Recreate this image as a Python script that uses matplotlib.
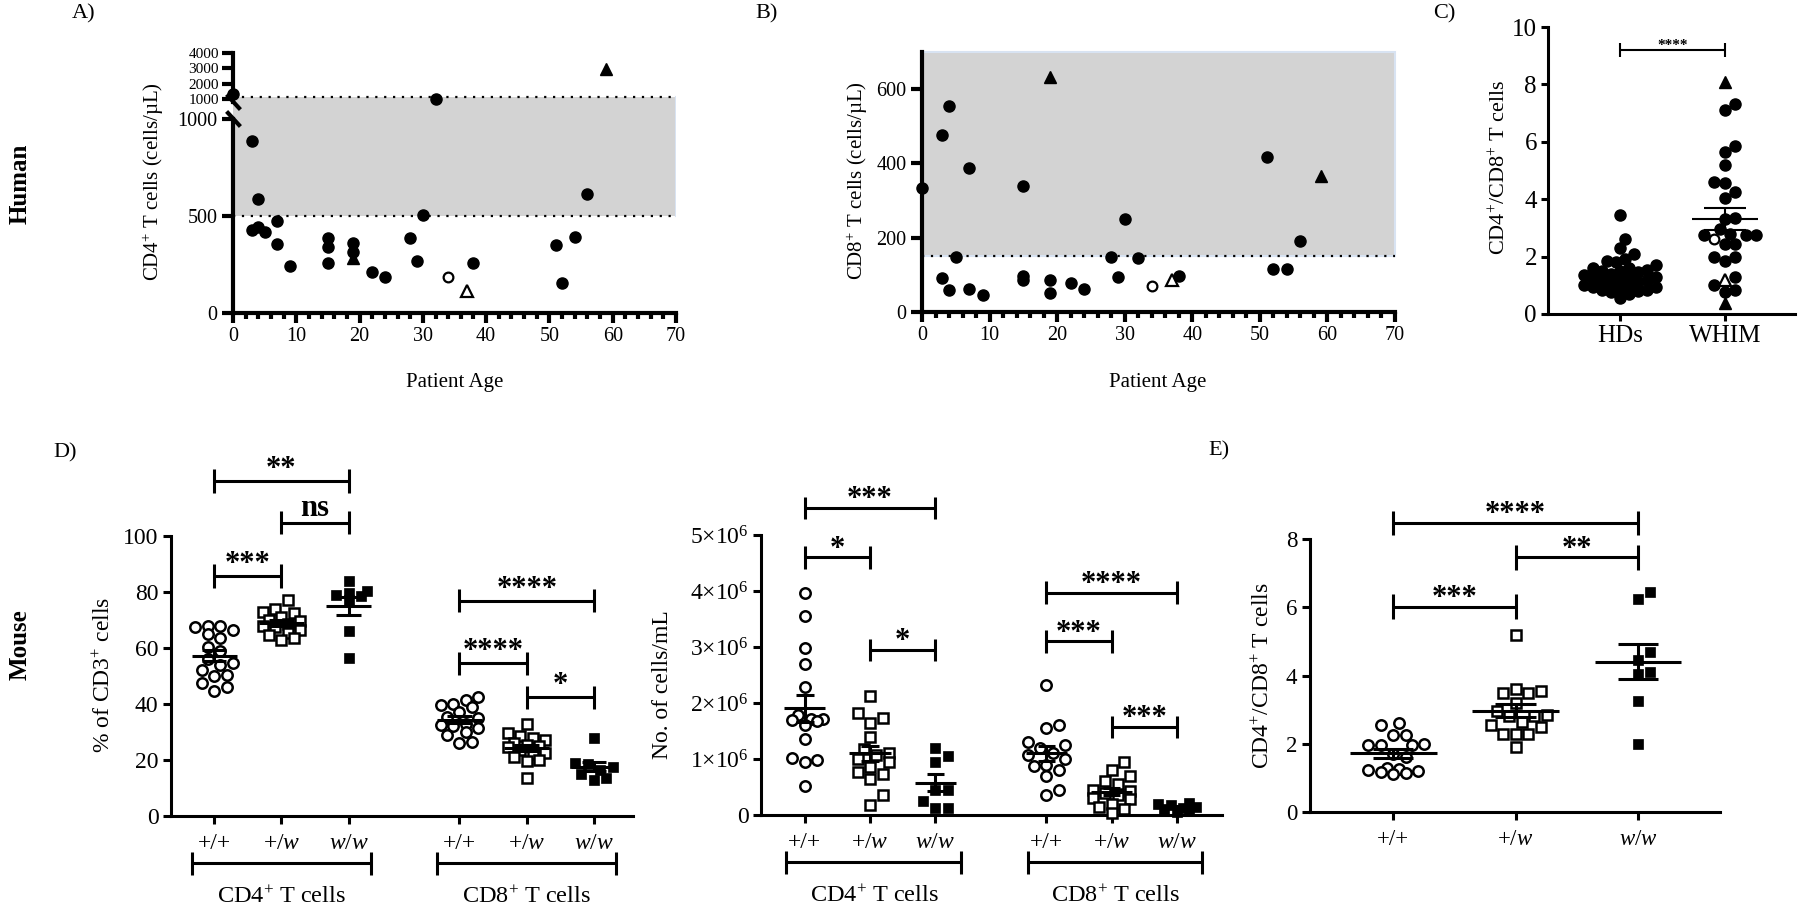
import numpy as np
import matplotlib
matplotlib.use("Agg")
import matplotlib.pyplot as plt
from matplotlib.lines import Line2D
from matplotlib.patches import Rectangle
from matplotlib.ticker import MultipleLocator

plt.rcParams['font.family'] = ['Liberation Serif', 'DejaVu Serif']
plt.rcParams['mathtext.fontset'] = 'custom'
plt.rcParams['mathtext.rm'] = 'Liberation Serif'
plt.rcParams['mathtext.it'] = 'Liberation Serif:italic'
plt.rcParams['mathtext.bf'] = 'Liberation Serif:bold'

#==============================================================================
#                               data
#==============================================================================
# A/B: WHIM patients, age vs CD4 / CD8 counts (cells/uL)
age = [0, 3, 3, 4, 4, 5, 7, 7, 9, 15, 15, 15, 19, 19, 22, 24, 28, 29, 30, 32, 38, 51, 52, 54, 56]
cd4 = [1350, 888, 428, 586, 445, 416, 476, 355, 241, 384, 338, 257, 359, 316, 212, 186,
       384, 267, 505, 1000, 259, 350, 155, 390, 614]
cd8 = [335, 477, 92, 554, 60, 149, 389, 63, 45, 340, 96, 86, 87, 52, 77, 61,
       149, 95, 250, 146, 96, 416, 117, 117, 192]
age_tri, cd4_tri, cd8_tri = [19, 59], [281, 2950], [633, 367]          # filled triangles
age_ocirc, cd4_ocirc, cd8_ocirc = [34], [186], [69]                    # open circle
age_otri, cd4_otri, cd8_otri = [37], [112], [86]                       # open triangle
cd4_range = (500, 1100)
cd8_range = (150, 700)

# C: CD4/CD8 ratio, healthy donors vs WHIM
ratio_hd = [3.45, 2.6, 2.3, 2.1, 1.9, 1.85, 1.8, 1.7, 1.6, 1.6, 1.55, 1.5, 1.5, 1.45, 1.4,
            1.35, 1.3, 1.3, 1.25, 1.2, 1.2, 1.15, 1.1, 1.05, 1.0, 1.0, 0.95, 0.95, 0.9,
            0.85, 0.85, 0.8, 0.75, 0.7, 0.55]
ratio_whim = [7.3, 7.1, 5.85, 5.65, 5.2, 4.6, 4.55, 4.25, 4.05, 3.35, 3.3, 2.95, 2.8, 2.75,
              2.75, 2.75, 2.45, 2.45, 2.0, 2.0, 1.85, 1.3, 1.0, 0.85, 0.75]
ratio_whim_tri = [8.1, 0.38]
ratio_whim_ocirc = [2.6]
ratio_whim_otri = [1.2]

# D/E: mice, genotypes +/+, +/w, w/w
genotypes = ['+/+', r'+/$\mathit{w}$', r'$\mathit{w}$/$\mathit{w}$']
pct_cd4 = [[68, 68, 67.5, 66.5, 65, 63.5, 60.5, 59, 56, 54.5, 54, 52, 50.5, 50, 47.5, 46, 44.5],
           [77, 74, 73, 72.5, 71, 70, 69.5, 68.5, 68, 67.5, 66.5, 65.5, 64.5, 63.5, 63],
           [84, 80.5, 79.5, 79, 78.5, 77, 66, 56.5]]
pct_cd8 = [[42.5, 41.5, 40, 39.5, 39, 37, 35.5, 35, 33, 32.5, 32, 31.5, 30, 29, 26.5, 26],
           [33, 29.5, 28.5, 28, 27, 26, 25.5, 25, 24.5, 23.5, 22.5, 22, 21, 20, 19.5, 13.5],
           [28, 19, 18.5, 17.5, 16.5, 15, 13.5, 13]]
# cells/mL, in units of 1e6
num_cd4 = [[3.97, 3.55, 2.98, 2.7, 2.28, 1.78, 1.72, 1.71, 1.7, 1.68, 1.6, 1.35, 1.02, 0.98, 0.95, 0.52],
           [2.13, 1.83, 1.74, 1.65, 1.4, 1.17, 1.1, 1.07, 1.0, 0.95, 0.85, 0.77, 0.74, 0.65, 0.36, 0.18],
           [1.2, 1.05, 0.95, 0.45, 0.45, 0.25, 0.13, 0.12]]
num_cd8 = [[2.33, 1.6, 1.55, 1.3, 1.25, 1.2, 1.1, 1.07, 1.0, 0.9, 0.88, 0.8, 0.7, 0.45, 0.35],
           [0.95, 0.8, 0.7, 0.6, 0.55, 0.45, 0.42, 0.4, 0.35, 0.3, 0.28, 0.2, 0.15, 0.1, 0.03],
           [0.22, 0.2, 0.18, 0.15, 0.12, 0.1, 0.08, 0.05]]
ratio_mouse = [[2.6, 2.55, 2.25, 2.25, 2.0, 1.95, 1.95, 1.95, 1.7, 1.6, 1.3, 1.25, 1.22, 1.2, 1.18, 1.15, 1.12],
               [5.2, 3.6, 3.55, 3.5, 3.5, 3.2, 2.95, 2.85, 2.8, 2.8, 2.65, 2.55, 2.5, 2.3, 2.3, 2.3, 1.9],
               [6.45, 6.25, 4.7, 4.45, 4.1, 4.05, 3.25, 2.0]]

# significance: (label, group i, group j, bracket height)
sig_c = [('****', 0, 1, 9.19)]
sig_pct = [('**', 0, 2, 119.6), ('ns', 1, 2, 104.8), ('***', 0, 1, 85.8),
           ('****', 3, 5, 76.9), ('****', 3, 4, 54.5), ('*', 4, 5, 42.4)]
sig_num = [('***', 0, 2, 5.48), ('*', 0, 1, 4.6), ('*', 1, 2, 2.95),
           ('****', 3, 5, 3.97), ('***', 3, 4, 3.1), ('***', 4, 5, 1.57)]
sig_ratio = [('****', 0, 2, 8.47), ('**', 1, 2, 7.46), ('***', 0, 1, 6.02)]

#==============================================================================
#                               helpers
#==============================================================================
W, H = 1800, 909
fig = plt.figure(figsize=(W / 100, H / 100), dpi=100)
GRAY, EDGE = '#d3d3d3', '#d8e3f2'


def frame(x0, y0, x1, y1):
    return [x0 / W, 1 - y1 / H, (x1 - x0) / W, (y1 - y0) / H]


def style(ax, lw, tl, fs):
    for s in ['top', 'right']:
        ax.spines[s].set_visible(False)
    for s in ['left', 'bottom']:
        ax.spines[s].set_linewidth(lw)
    ax.tick_params(direction='out', length=tl, width=lw, labelsize=fs, pad=3)


def scale(ax):
    p = ax.get_position()
    x0, x1 = ax.get_xlim()
    y0, y1 = ax.get_ylim()
    return p.width * W / (x1 - x0), p.height * H / (y1 - y0)


def swarm(vals, sx, sy, d, maxw, step=0.5):
    # simple beeswarm in pixel space; points overlap once the row is maxw wide
    vals = np.asarray(vals, float)
    offs = np.zeros(len(vals))
    placed = []
    cands = [0] + [s * k for k in range(1, 60) for s in (1, -1)]
    for i in np.argsort(vals):
        y = vals[i] * sy
        best, bestd = 0.0, -1.0
        for c in cands:
            x = c * step * d
            if abs(x) > maxw:
                continue
            md = min([np.hypot(x - px, y - py) for px, py in placed] or [1e9])
            if md >= d:
                best = x
                break
            if md > bestd:
                best, bestd = x, md
        placed.append((best, y))
        offs[i] = best / sx
    return offs


def mean_sem(ax, xc, v, wm, wc, lw):
    v = np.asarray(v, float)
    m = v.mean()
    e = v.std(ddof=1) / np.sqrt(len(v))
    kw = dict(color='black', lw=lw, zorder=4, solid_capstyle='butt')
    ax.plot([xc - wm / 2, xc + wm / 2], [m, m], **kw)
    ax.plot([xc, xc], [m - e, m + e], **kw)
    for yy in (m - e, m + e):
        ax.plot([xc - wc / 2, xc + wc / 2], [yy, yy], **kw)


def bracket(ax, x1, x2, y, cap, text, fs, lw, off):
    kw = dict(color='black', lw=lw, clip_on=False, solid_capstyle='butt')
    ax.plot([x1, x2], [y, y], **kw)
    ax.plot([x1, x1], [y - cap, y + cap], **kw)
    ax.plot([x2, x2], [y - cap, y + cap], **kw)
    ax.annotate(text, ((x1 + x2) / 2, y), xytext=(0, off), textcoords='offset points',
                ha='center', va='baseline', fontsize=fs, fontweight='bold',
                annotation_clip=False)


def group_bar(ax, x1, x2, label, lw=2.2, fs=17.5):
    tr = ax.get_xaxis_transform()
    kw = dict(color='black', lw=lw, clip_on=False, transform=tr, solid_capstyle='butt')
    ax.plot([x1, x2], [-0.168, -0.168], **kw)
    ax.plot([x1, x1], [-0.128, -0.209], **kw)
    ax.plot([x2, x2], [-0.128, -0.209], **kw)
    ax.text((x1 + x2) / 2, -0.29, label, transform=tr, ha='center', va='center', fontsize=fs)


fc = dict(marker='o', color='black', ms=8, ls='none', clip_on=False, zorder=3)
ft = dict(marker='^', color='black', ms=9, ls='none', clip_on=False, zorder=3)
oc = dict(marker='o', mfc='white', mec='black', ms=7, mew=1.6, ls='none', clip_on=False, zorder=3)
ot = dict(marker='^', mfc='white', mec='black', ms=8, mew=1.6, ls='none', clip_on=False, zorder=3)

#==============================================================================
#                               A) CD4 vs age (broken axis)
#==============================================================================
axAh = fig.add_axes(frame(233, 53, 676, 112))
axAl = fig.add_axes(frame(233, 112, 676, 313))
for ax in (axAh, axAl):
    style(ax, 3, 8, 14.5)
    ax.set_xlim(0, 70)
    ax.set_facecolor('none')
axAh.tick_params(axis='y', labelsize=11, pad=2)
axAl.set_ylim(0, 1036)
axAh.set_ylim(151, 4000)
axAh.spines['bottom'].set_visible(False)
axAh.tick_params(axis='x', bottom=False, labelbottom=False)
axAl.spines['left'].set_bounds(0, 1000)
axAh.spines['left'].set_bounds(800, 4000)
axAl.set_yticks([0, 500, 1000])
axAh.set_yticks([1000, 2000, 3000, 4000])
axAl.xaxis.set_major_locator(MultipleLocator(10))
axAl.xaxis.set_minor_locator(MultipleLocator(2))
axAl.tick_params(axis='x', which='major', length=7)
axAl.tick_params(axis='x', which='minor', length=4.5, width=3)
axAl.axhspan(cd4_range[0], 1036, color=GRAY, zorder=0, lw=0)
axAh.axhspan(151, cd4_range[1], color=GRAY, zorder=0, lw=0)
axAl.axhline(cd4_range[0], color='black', ls=(0, (1, 3)), lw=1.6, zorder=1)
axAh.axhline(cd4_range[1], color='black', ls=(0, (1, 3)), lw=1.6, zorder=1)
axAl.plot([70, 70], [cd4_range[0], 1036], color=EDGE, lw=1.5, zorder=1)
axAh.plot([70, 70], [151, cd4_range[1]], color=EDGE, lw=1.5, zorder=1)

for xs, ys, mk in [(age, cd4, fc), (age_tri, cd4_tri, ft), (age_ocirc, cd4_ocirc, oc), (age_otri, cd4_otri, ot)]:
    xs, ys = np.array(xs), np.array(ys)
    hi = ys >= 1000
    axAh.plot(xs[hi], ys[hi], **mk)
    axAl.plot(xs[~hi], ys[~hi], **mk)

# break marks on the y axis
fig.canvas.draw()
for ax, yv in ((axAh, 800), (axAl, 1000)):
    px, py = ax.transData.transform((0, yv))
    fx, fy = px / W, py / H
    fig.add_artist(Line2D([fx - 5 / W, fx + 6 / W], [fy + 6 / H, fy - 6 / H],
                          color='black', lw=3, transform=fig.transFigure))

fig.text(455 / W, 1 - 382 / H, 'Patient Age', ha='center', va='center', fontsize=15)
fig.text(153 / W, 1 - 182 / H, r'CD4$^{+}$ T cells (cells/µL)', rotation=90,
         ha='center', va='center', fontsize=15)

#==============================================================================
#                               B) CD8 vs age
#==============================================================================
axB = fig.add_axes(frame(922, 52, 1395, 312))
style(axB, 3, 8, 14.5)
axB.set_xlim(0, 70)
axB.set_ylim(0, cd8_range[1])
axB.set_yticks([0, 200, 400, 600])
axB.xaxis.set_major_locator(MultipleLocator(10))
axB.xaxis.set_minor_locator(MultipleLocator(2))
axB.tick_params(axis='x', which='major', length=7)
axB.tick_params(axis='x', which='minor', length=4.5, width=3)
axB.add_patch(Rectangle((0, cd8_range[0]), 70, cd8_range[1] - cd8_range[0],
                        facecolor=GRAY, edgecolor=EDGE, lw=1.5, zorder=0, clip_on=False))
axB.axhline(cd8_range[0], color='black', ls=(0, (1, 3)), lw=1.6, zorder=1)
for xs, ys, mk in [(age, cd8, fc), (age_tri, cd8_tri, ft), (age_ocirc, cd8_ocirc, oc), (age_otri, cd8_otri, ot)]:
    axB.plot(xs, ys, **mk)
fig.text(1158 / W, 1 - 382 / H, 'Patient Age', ha='center', va='center', fontsize=15)
fig.text(857 / W, 1 - 181 / H, r'CD8$^{+}$ T cells (cells/µL)', rotation=90,
         ha='center', va='center', fontsize=15)

#==============================================================================
#                               C) ratio HDs vs WHIM
#==============================================================================
axC = fig.add_axes(frame(1548, 27, 1795, 314))
style(axC, 2.2, 5, 18)
axC.set_xlim(-0.686, 1.667)
axC.set_ylim(0, 10)
axC.set_yticks(range(0, 11, 2))
axC.set_xticks([0, 1])
axC.set_xticklabels(['HDs', 'WHIM'])
sx, sy = scale(axC)
off = swarm(ratio_hd, sx, sy, 9, 36)
axC.plot(0 + off, ratio_hd, **dict(fc, ms=8))
mean_sem(axC, 0, ratio_hd, 0.5, 0.3, 1.5)
whim_all = ratio_whim + ratio_whim_tri + ratio_whim_ocirc + ratio_whim_otri
off = swarm(whim_all, sx, sy, 10.5, 33)
n1, n2, n3 = len(ratio_whim), len(ratio_whim_tri), len(ratio_whim_ocirc)
axC.plot(1 + off[:n1], ratio_whim, **dict(fc, ms=8))
axC.plot(1 + off[n1:n1 + n2], ratio_whim_tri, **dict(ft, ms=9))
axC.plot(1 + off[n1 + n2:n1 + n2 + n3], ratio_whim_ocirc, **oc)
axC.plot(1 + off[n1 + n2 + n3:], ratio_whim_otri, **ot)
mean_sem(axC, 1, whim_all, 0.62, 0.4, 1.5)
for lab, i, j, y in sig_c:
    bracket(axC, i, j, y, 0.25, lab, 11, 1.5, 1)
fig.text(1500 / W, 1 - 167 / H, r'CD4$^{+}$/CD8$^{+}$ T cells', rotation=90,
         ha='center', va='center', fontsize=16)

#==============================================================================
#                               D) % and numbers of CD4 / CD8
#==============================================================================
mk_mouse = [dict(marker='o', mfc='white', mec='black', ms=7.5, mew=1.8),
            dict(marker='s', mfc='white', mec='black', ms=6.8, mew=1.8),
            dict(marker='s', mfc='black', mec='black', ms=7.5, mew=0.5)]


def mouse_panel(ax, pos, groups, mult, wm, wc, maxw):
    sx, sy = scale(ax)
    for k, (xc, vals) in enumerate(zip(pos, groups)):
        v = np.asarray(vals, float) * mult
        off = swarm(v, sx, sy, 12.5, maxw)
        ax.plot(xc + off, v, ls='none', clip_on=False, zorder=3, **mk_mouse[k % 3])
        mean_sem(ax, xc, v, wm, wc, 2.2)


posL = [1, 2, 3, 4.65, 5.65, 6.65]
axDL = fig.add_axes(frame(171, 536, 633, 816))
style(axDL, 2.2, 6, 17)
axDL.set_xlim(0.36, 7.23)
axDL.set_ylim(0, 100)
axDL.set_yticks(range(0, 101, 20))
axDL.set_xticks(posL)
axDL.set_xticklabels(genotypes * 2)
axDL.tick_params(axis='x', pad=6)
mouse_panel(axDL, posL, pct_cd4 + pct_cd8, 1, 0.67, 0.37, 22)
for lab, i, j, y in sig_pct:
    bracket(axDL, posL[i], posL[j], y, 4.2, lab, 22, 2.2, 3 if lab != 'ns' else 4.5)
group_bar(axDL, 0.67, 3.33, r'CD4$^{+}$ T cells')
group_bar(axDL, 4.32, 6.98, r'CD8$^{+}$ T cells')
fig.text(104 / W, 1 - 675 / H, r'% of CD3$^{+}$ cells', rotation=90,
         ha='center', va='center', fontsize=17)

posR = [1, 2, 3, 4.7, 5.7, 6.7]
axDR = fig.add_axes(frame(761, 535, 1222, 815))
style(axDR, 2.2, 6, 17)
axDR.set_xlim(0.33, 7.39)
axDR.set_ylim(0, 5e6)
axDR.set_yticks([k * 1e6 for k in range(6)])
axDR.set_yticklabels(['0'] + [r'%d×10$^{6}$' % k for k in range(1, 6)])
axDR.set_xticks(posR)
axDR.set_xticklabels(genotypes * 2)
axDR.tick_params(axis='x', pad=6)
mouse_panel(axDR, posR, num_cd4 + num_cd8, 1e6, 0.63, 0.27, 22)
for lab, i, j, y in sig_num:
    bracket(axDR, posR[i], posR[j], y * 1e6, 0.2e6, lab, 22, 2.2, 0.5)
group_bar(axDR, 0.72, 3.4, r'CD4$^{+}$ T cells')
group_bar(axDR, 4.42, 7.08, r'CD8$^{+}$ T cells')
fig.text(663 / W, 1 - 685 / H, 'No. of cells/mL', rotation=90,
         ha='center', va='center', fontsize=17)

#==============================================================================
#                               E) mouse CD4/CD8 ratio
#==============================================================================
posE = [1, 2, 3]
axE = fig.add_axes(frame(1310, 539, 1720, 812))
style(axE, 2.2, 6, 16.5)
axE.set_xlim(0.32, 3.67)
axE.set_ylim(0, 8)
axE.set_yticks(range(0, 9, 2))
axE.set_xticks(posE)
axE.set_xticklabels(genotypes)
axE.tick_params(axis='x', pad=6)
mouse_panel(axE, posE, ratio_mouse, 1, 0.71, 0.33, 36)
for lab, i, j, y in sig_ratio:
    bracket(axE, posE[i], posE[j], y, 0.36, lab, 22, 2.2, 0.5)
fig.text(1263 / W, 1 - 676 / H, r'CD4$^{+}$/CD8$^{+}$ T cells', rotation=90,
         ha='center', va='center', fontsize=17)

#==============================================================================
#                               panel letters / row labels
#==============================================================================
for txt, x, y in [('A)', 72, 14), ('B)', 755, 14), ('C)', 1433, 14), ('D)', 53, 453), ('E)', 1208, 451)]:
    fig.text(x / W, 1 - y / H, txt, ha='left', va='center', fontsize=16)
fig.text(20 / W, 1 - 184 / H, 'Human', rotation=90, ha='center', va='center',
         fontsize=18, fontweight='bold')
fig.text(20 / W, 1 - 645 / H, 'Mouse', rotation=90, ha='center', va='center',
         fontsize=18, fontweight='bold')

fig.savefig('out.png', dpi=100)
